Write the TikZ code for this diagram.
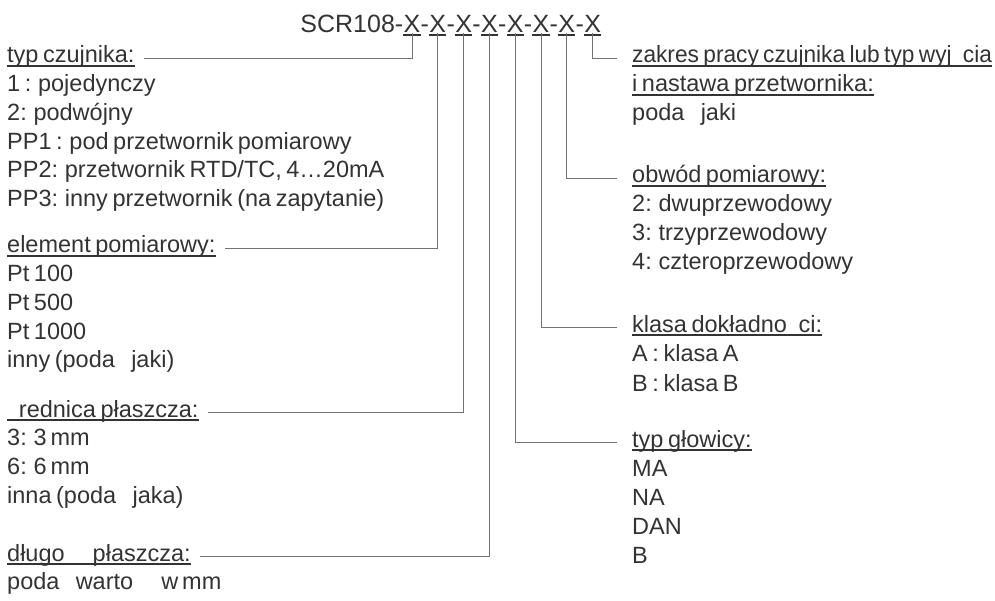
\documentclass[tikz,border=0pt]{standalone}
\usepackage{fontspec}
\setmainfont{Liberation Sans}[WordSpace=0.7]
\usepackage{graphicx}
\usepackage{tikz}
\usetikzlibrary{positioning, calc}

\newcommand{\bodyfont}{\fontsize{23.5}{28.7}\selectfont}
\newcommand{\codefont}{\fontsize{25}{30}\selectfont}

\begin{document}
\begin{tikzpicture}[
    x=1pt, y=-1pt,
    every node/.style={text=black!80},
    code/.style={anchor=base west, inner sep=0pt, font=\codefont},
    head/.style={anchor=base west, inner sep=0pt, font=\bodyfont},
    row/.style={anchor=base west, inner sep=0pt, font=\bodyfont},
    conn/.style={draw=black!55, line width=1pt},
    uline/.style={draw=black!80, line width=2pt},
]
\useasboundingbox (0,0) rectangle (995,601);

% order code
\node[code, anchor=base] (x1) at (412,33) {X};
\node[code, anchor=base east] (pre) at (x1.base west) {SCR108-};
\foreach \i [remember=\i as \j (initially 1)] in {2,...,8} {
    \node[code] (d\i) at (x\j.base east) {-};
    \node[code] (x\i) at (d\i.base east) {X};
}

% left column
\node[head] (czujnik) at (7,63) {typ czujnika:};
\node[head] (element) at (7,253) {element pomiarowy:};
\node[head] (srednica) at (7,417) {\phantom{ś}rednica płaszcza:};
\node[head] (dlugosc) at (7,561) {długo\phantom{ść} płaszcza:};

\foreach \t [count=\k] in {1 : pojedynczy, 2: podwójny, PP1 : pod przetwornik pomiarowy,
        {PP2: przetwornik RTD/TC, 4…20mA}, PP3: inny przetwornik (na zapytanie)}
    \node[row] (czujnik-\k) at ([yshift=-\k*28.7pt]czujnik.base west) {\t};
\foreach \t [count=\k] in {Pt 100, Pt 500, Pt 1000, inny (poda\phantom{ć} jaki)}
    \node[row] (element-\k) at ([yshift=-\k*28.7pt]element.base west) {\t};
\foreach \t [count=\k] in {3: 3\,mm, 6: 6\,mm, inna (poda\phantom{ć} jaka)}
    \node[row] (srednica-\k) at ([yshift=-\k*28.7pt]srednica.base west) {\t};
\node[row] (dlugosc-1) at ([yshift=-28.7pt]dlugosc.base west) {poda\phantom{ć} warto\phantom{ść} w\,mm};

% right column
\node[head] (zakres) at (632,63) {\scalebox{0.965}[1]{zakres pracy czujnika lub typ wyj\phantom{ś}cia}};
\node[head] (zakres2) at (632,92) {i nastawa przetwornika:};
\node[head] (obwod) at (632,183) {obwód pomiarowy:};
\node[head] (klasa) at (632,332) {klasa dokładno\phantom{ś}ci:};
\node[head] (glowica) at (632,447) {typ głowicy:};

\node[row] (zakres-1) at ([yshift=-28.7pt]zakres2.base west) {poda\phantom{ć} jaki};
\foreach \t [count=\k] in {2: dwuprzewodowy, 3: trzyprzewodowy, 4: czteroprzewodowy}
    \node[row] (obwod-\k) at ([yshift=-\k*28.9pt]obwod.base west) {\t};
\foreach \t [count=\k] in {A : klasa A, B : klasa B}
    \node[row] (klasa-\k) at ([yshift=-\k*29.5pt]klasa.base west) {\t};
\foreach \t [count=\k] in {MA, NA, DAN, B}
    \node[row] (glowica-\k) at ([yshift=-\k*29pt]glowica.base west) {\t};

% underlines
\foreach \n in {czujnik, element, srednica, dlugosc, zakres, zakres2, obwod, klasa, glowica}
    \draw[uline] ([yshift=-3pt]\n.base west) -- ([yshift=-3pt]\n.base east);
\foreach \i in {1,...,8}
    \draw[uline] ([yshift=-2pt]x\i.base west) -- ([yshift=-2pt]x\i.base east);

% connectors
\draw[conn] (x1.base) |- ([xshift=9pt,yshift=4.5pt]czujnik.base east);
\draw[conn] (x2.base) |- ([xshift=9pt,yshift=4.5pt]element.base east);
\draw[conn] (x3.base) |- ([xshift=9pt,yshift=4.5pt]srednica.base east);
\draw[conn] (x4.base) |- ([xshift=9pt,yshift=4.5pt]dlugosc.base east);
\draw[conn] (x5.base) |- ([xshift=-15pt,yshift=4.5pt]glowica.base west);
\draw[conn] (x6.base) |- ([xshift=-15pt,yshift=4.5pt]klasa.base west);
\draw[conn] (x7.base) |- ([xshift=-15pt,yshift=4.5pt]obwod.base west);
\draw[conn] (x8.base) |- ([xshift=-15pt,yshift=4.5pt]zakres.base west);
\end{tikzpicture}
\end{document}
